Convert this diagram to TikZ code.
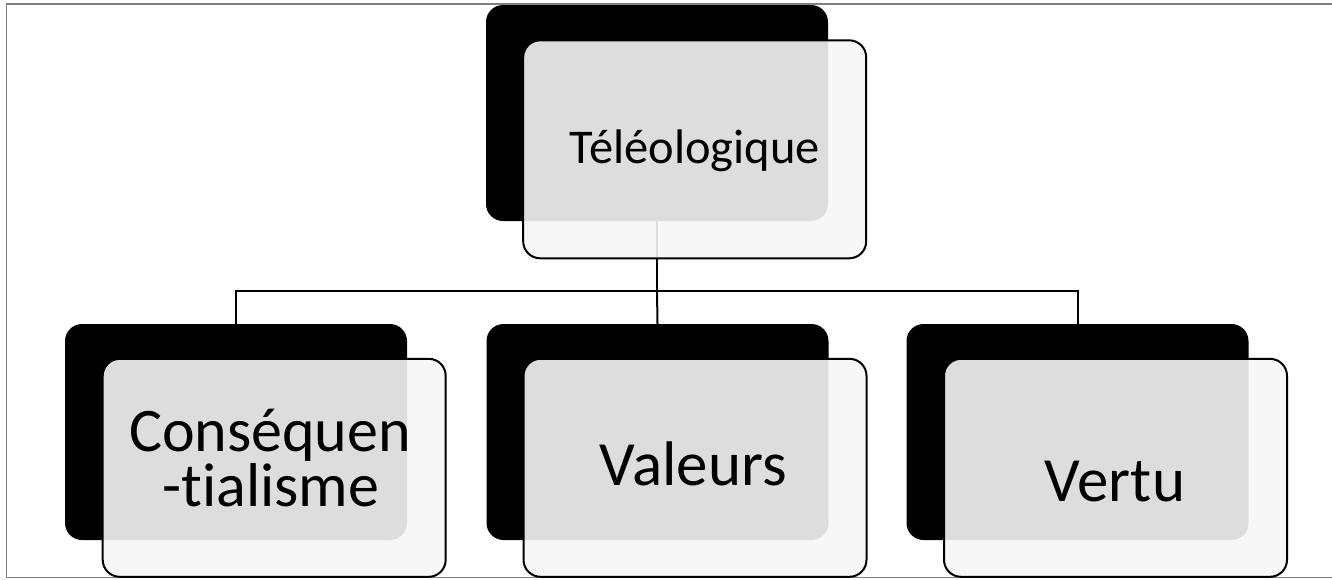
\documentclass[tikz,border=0pt]{standalone}
\usepackage{fontspec}
\setmainfont{Carlito}[Ligatures=NoCommon]
\definecolor{lightfill}{RGB}{246,246,246}
\definecolor{framegray}{RGB}{128,128,128}
\tikzset{
  backbox/.style={rectangle, rounded corners=17pt, fill=black, draw=none,
    minimum width=342pt, minimum height=216pt, inner sep=0pt, outer sep=0pt},
  frontbox/.style={rectangle, rounded corners=17pt, fill=lightfill, fill opacity=0.9,
    text opacity=1, draw=black, line width=2pt,
    minimum width=343pt, minimum height=218pt, inner sep=0pt, outer sep=0pt},
  conn/.style={draw=black, line width=2pt},
  lbl/.style={anchor=base, inner sep=0pt, text=black},
  frame/.style={draw=framegray, line width=1.5pt}
}
\begin{document}
\begin{tikzpicture}[x=1pt, y=-1pt]
\useasboundingbox (0,0) rectangle (1332,579);
% frame
\coordinate (f1) at (1332,4);
\coordinate (f2) at (6.5,4);
\coordinate (f3) at (6.5,577.5);
\coordinate (f4) at (1332,577.5);
\draw[frame] (f1) -- (f2) -- (f3) -- (f4);
% back boxes
\node[backbox] (tb) at (657,113) {};
\node[backbox] (lb) at (236,432) {};
\node[backbox] (mb) at (657.5,432) {};
\node[backbox] (rb) at (1077.5,432) {};
% connectors
\coordinate (j) at (657,291);
\draw[conn] (tb.south) -- (j);
\draw[conn] (j) -| (lb.north);
\draw[conn] (j) -| (rb.north);
\draw[conn] (j) -- (mb.north);
% front boxes
\node[frontbox] (tf) at (694.7,149.3) {};
\node[frontbox] (lf) at (274.2,467.8) {};
\node[frontbox] (mf) at (695,467.8) {};
\node[frontbox] (rf) at (1115.5,467.8) {};
% texts
\node[lbl, font=\fontsize{48.5}{48.5}\selectfont] (tt) at (694.7,163.3) {Téléologique};
\node[lbl, font=\fontsize{63}{63}\selectfont] (mt) at (693.4,485) {Valeurs};
\node[lbl, font=\fontsize{63}{63}\selectfont] (rt) at (1115,501.7) {Vertu};
\node[lbl, font=\fontsize{62}{62}\selectfont] (lt1) at (270,451) {Conséquen};
\node[lbl, font=\fontsize{62}{62}\selectfont] (lt2) at (271,506.5) {-tialisme};
\end{tikzpicture}
\end{document}
